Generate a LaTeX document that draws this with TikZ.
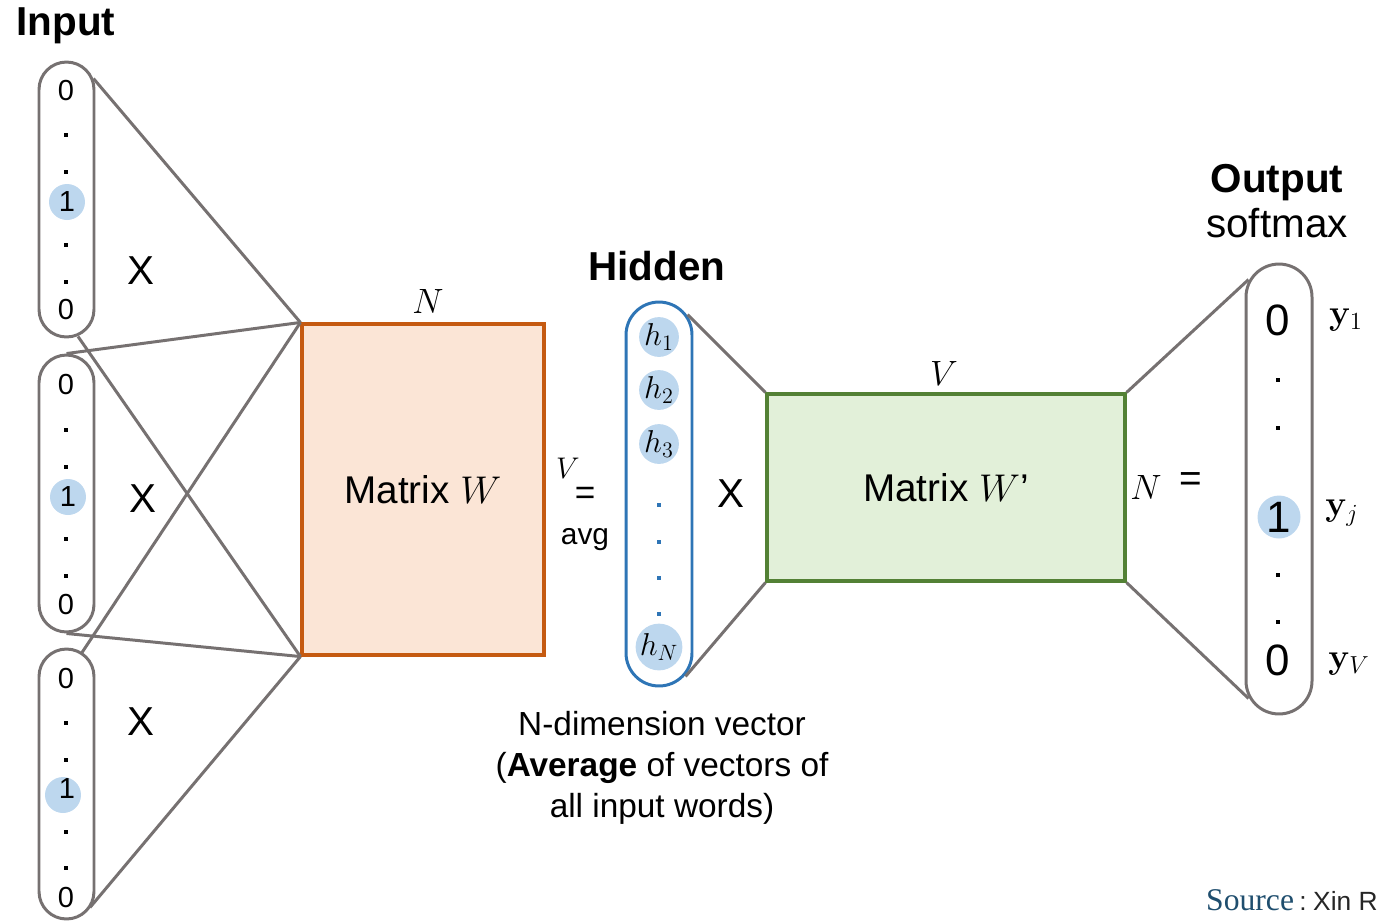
\RequirePackage{fix-cm}
\documentclass[tikz,border=0pt]{standalone}
\usepackage{amsmath}
\usepackage[no-math]{fontspec}
\setmainfont{Liberation Sans}
\newfontfamily\srcfont{Liberation Serif}
\usepackage{xcolor}
\usetikzlibrary{positioning, calc}

\definecolor{linegray}{HTML}{767171}
\definecolor{wborder}{HTML}{C55A11}
\definecolor{wfill}{HTML}{FBE5D6}
\definecolor{vborder}{HTML}{538135}
\definecolor{vfill}{HTML}{E2F0D9}
\definecolor{hblue}{HTML}{2E75B6}
\definecolor{hlight}{HTML}{BDD7EE}
\definecolor{srcteal}{HTML}{1F4E6E}

\begin{document}
\begin{tikzpicture}[
        x=0.02cm, y=-0.02cm,
        vec/.style={
            draw=linegray,
            line width=1.7pt,
            rectangle,
            rounded corners=0.549cm,
            minimum width=1.1cm,
            inner sep=0pt
        },
        ovec/.style={vec, rounded corners=0.659cm, minimum width=1.32cm, minimum height=9cm},
        hvec/.style={vec, draw=hblue, rounded corners=0.659cm, minimum width=1.32cm, minimum height=7.68cm},
        mat/.style={
            rectangle,
            line width=1.8pt,
            inner sep=0pt,
            font=\fontsize{22}{26}\selectfont
        },
        conn/.style={draw=linegray, line width=1.7pt},
        hl/.style={circle, fill=hlight, inner sep=0pt, minimum size=0.72cm},
        dotn/.style={fill=black, inner sep=0pt, minimum size=0.075cm},
        digit/.style={font=\fontsize{16.5}{18}\selectfont},
        bigdigit/.style={font=\fontsize{25}{28}\selectfont},
        hsz/.style={hl, minimum size=0.76cm, font=\fontsize{18}{20}\selectfont},
        times/.style={font=\fontsize{23}{26}\selectfont},
        head/.style={font=\fontsize{23}{26}\selectfont\bfseries},
        dimlbl/.style={font=\fontsize{20}{22}\selectfont}
    ]
        \useasboundingbox (0,0) rectangle (1378,921);

        % input vectors
        \node[vec, minimum height=5.5cm] (in1) at (66.5,199.5) {};
        \node[vec, minimum height=5.54cm] (in2) at (66.5,493.5) {};
        \node[vec, minimum height=5.4cm] (in3) at (66.5,784) {};

        \node[head] (input) at (66,26) {Input};

        \node[digit] (a1) at (66,91) {0};
        \node[hl, digit] (a2) at (67,202) {1};
        \node[digit] (a3) at (66,310) {0};
        \foreach \y [count=\i] in {135,172,245,282}
            \node[dotn] (ad\i) at (66,\y) {};

        \node[digit] (b1) at (66,385) {0};
        \node[hl, digit] (b2) at (68,497) {1};
        \node[digit] (b3) at (66,605) {0};
        \foreach \y [count=\i] in {430,467,539,576}
            \node[dotn] (bd\i) at (66,\y) {};

        \node[digit] (c1) at (66,678) {0};
        \node[hl] (c2) at (63,795) {};
        \node[digit] (c2n) at (67,789) {1};
        \node[digit] (c3) at (66,897) {0};
        \foreach \y [count=\i] in {723,760,832,868}
            \node[dotn] (cd\i) at (66,\y) {};

        \node[times] (x1) at (141,271) {X};
        \node[times] (x2) at (143,499) {X};
        \node[times] (x3) at (141,722) {X};

        % matrix W
        \node[mat, draw=wborder, fill=wfill, minimum width=4.84cm, minimum height=6.62cm] (W) at (423,489.5) {Matrix $W$};
        \node[dimlbl] (wn) at (428,301) {$N$};

        \draw[conn] ($(in1.north east)+(-2,18)$) -- (W.north west);
        \draw[conn] ($(in1.south)+(11.5,-2)$) -- (W.south west);
        \draw[conn] (in2.north) -- (W.north west);
        \draw[conn] (in2.south) -- (W.south west);
        \draw[conn] ($(in3.north)+(15.5,5)$) -- (W.north west);
        \draw[conn] ($(in3.south)+(23.5,-13)$) -- (W.south west);

        % hidden layer
        \node[font=\fontsize{17}{19}\selectfont] (hv) at (568,468) {$V$};
        \node[font=\fontsize{20}{22}\selectfont] (heq) at (585,496) {=};
        \node[font=\fontsize{17}{19}\selectfont] (avg) at (585,540) {avg};

        \node[hvec] (hid) at (659,494) {};
        \node[head] (hidden) at (657,266) {Hidden};
        \node[hsz] (h1) at (659,337) {$h_1$};
        \node[hsz] (h2) at (659,390) {$h_2$};
        \node[hsz] (h3) at (659,444) {$h_3$};
        \node[hsz] (hN) at (659,647) {$h_N$};
        \foreach \y [count=\i] in {505,542,578,614}
            \node[dotn, fill=hblue] (hd\i) at (659,\y) {};

        \node[font=\fontsize{19}{23.3}\selectfont, align=center] (cap) at (662,768)
            {N-dimension vector\\(\textbf{Average} of vectors of\\all input words)};

        \node[times] (x4) at (731,494) {X};

        % matrix W'
        \node[mat, draw=vborder, fill=vfill, minimum width=7.16cm, minimum height=3.74cm] (Wp) at (946,487.5) {Matrix $W$’};
        \node[dimlbl] (wpv) at (944,373) {$V$};
        \node[dimlbl] (wpn) at (1146,487) {$N$};
        \node[font=\fontsize{22}{24}\selectfont] (oeq) at (1191,482) {=};

        \draw[conn] ($(hid.north east)+(-6,14)$) -- (Wp.north west);
        \draw[conn] ($(hid.south east)+(-8,-11)$) -- (Wp.south west);

        % output
        \node[font=\fontsize{23}{26}\selectfont, align=center] (outlbl) at (1277,201) {\textbf{Output}\\softmax};
        \node[ovec] (out) at (1279,489) {};
        \node[bigdigit] (o1) at (1278,320) {0};
        \node[hl, bigdigit, minimum size=0.86cm] (oj) at (1279,517) {1};
        \node[bigdigit] (oV) at (1278,660) {0};
        \foreach \y [count=\i] in {380,428,575,622}
            \node[dotn] (od\i) at (1278,\y) {};

        \node[dimlbl] (y1) at (1346,320) {$\mathbf{y}_1$};
        \node[dimlbl] (yj) at (1342,513) {$\mathbf{y}_j$};
        \node[dimlbl] (yV) at (1349,664) {$\mathbf{y}_V$};

        \draw[conn] (Wp.north east) -- ($(out.north west)+(4,17)$);
        \draw[conn] (Wp.south east) -- ($(out.south west)+(4,-17)$);

        \node[anchor=base east, inner sep=0pt] (src) at (1378,910)
            {{\srcfont\fontsize{18}{20}\selectfont\color{srcteal}Source}\hspace{0.3em}{\fontsize{15}{17}\selectfont\color{black!85}:\hspace{0.25em}Xin R}};

    \end{tikzpicture}
\end{document}
